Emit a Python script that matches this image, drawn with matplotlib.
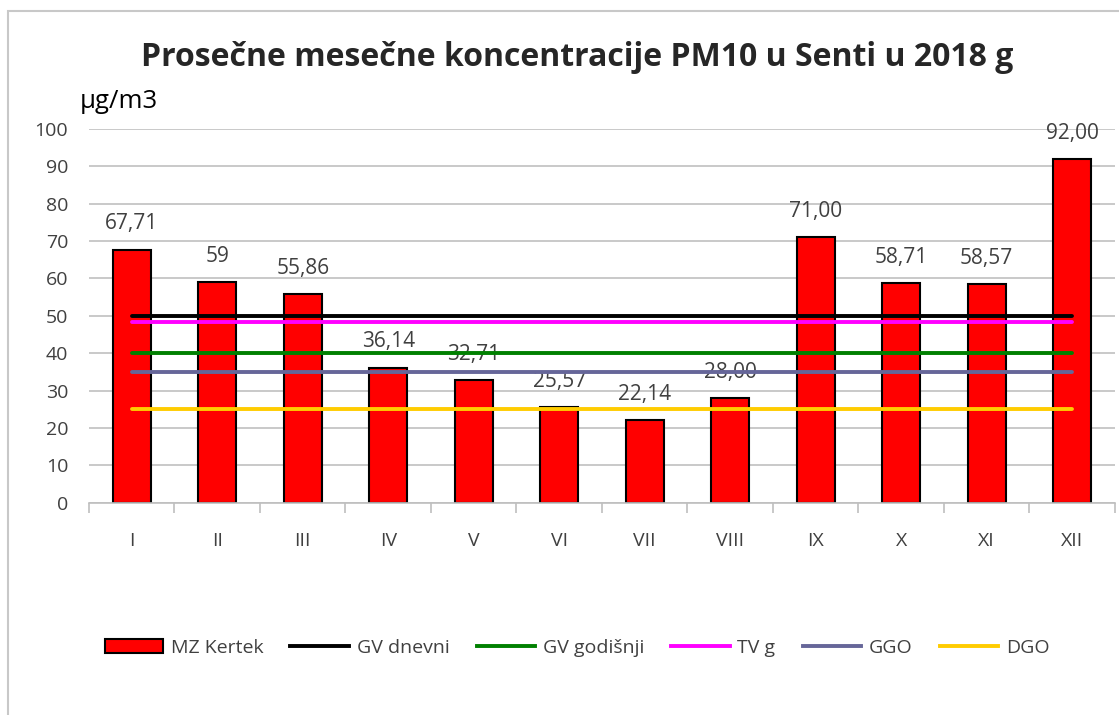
import matplotlib
matplotlib.use("Agg")
import matplotlib.pyplot as plt
import numpy as np
from matplotlib.patches import Rectangle
from matplotlib.lines import Line2D
from matplotlib.patches import Patch

months = ["I", "II", "III", "IV", "V", "VI", "VII", "VIII", "IX", "X", "XI", "XII"]
mz_kertek = [67.71, 59, 55.86, 36.14, 32.71, 25.57, 22.14, 28.00, 71.00, 58.71, 58.57, 92.00]
value_labels = ["67,71", "59", "55,86", "36,14", "32,71", "25,57", "22,14", "28,00", "71,00", "58,71", "58,57", "92,00"]
gv_dnevni = [50] * 12
gv_godisnji = [40] * 12
tv_g = [48.4] * 12
ggo = [35] * 12
dgo = [25] * 12

plt.rcParams['font.family'] = ['Open Sans', 'DejaVu Sans']
txt = '#404040'

fig = plt.figure(figsize=(11.19, 7.15), dpi=100)
ax = fig.add_axes([0.0795, 0.2969, 0.9964 - 0.0795, 0.8196 - 0.2969])

x = np.arange(len(months))
ax.bar(x, mz_kertek, width=0.44, color='#FF0000', edgecolor='black', linewidth=1.5, zorder=2)

line_specs = [
    (gv_dnevni, 'black', 'GV dnevni'),
    (gv_godisnji, '#008000', 'GV godišnji'),
    (tv_g, '#FF00FF', 'TV g'),
    (ggo, '#666699', 'GGO'),
    (dgo, '#FFCC00', 'DGO'),
]
for vals, col, lab in line_specs:
    ax.plot(x, vals, color=col, lw=2.8, solid_capstyle='round', zorder=4)

for xi, v, s in zip(x, mz_kertek, value_labels):
    ax.annotate(s, (xi, v), xytext=(0, 18.5), textcoords='offset points',
                ha='center', va='center', fontsize=15, color=txt, zorder=3)

ax.set_xlim(-0.5, 11.5)
ax.set_ylim(0, 100)
ax.set_yticks(np.arange(0, 101, 10))
ax.yaxis.grid(True, color='#C0C0C0', lw=1.2, zorder=0)
ax.set_axisbelow(True)
for sp in ['left', 'right', 'top']:
    ax.spines[sp].set_visible(False)
ax.spines['bottom'].set_color('#BFBFBF')
ax.spines['bottom'].set_linewidth(1.2)
ax.tick_params(axis='y', length=0, pad=15, labelsize=14, labelcolor=txt)
ax.set_xticks(x)
ax.set_xticklabels(months)
ax.tick_params(axis='x', which='major', length=0, pad=21, labelsize=14, labelcolor=txt)
ax.set_xticks(np.arange(-0.5, 12, 1), minor=True)
ax.tick_params(axis='x', which='minor', length=7, color='#BFBFBF', width=1.2)

fig.text(0.5156, 0.92, "Prosečne mesečne koncentracije PM10 u Senti u 2018 g",
         ha='center', va='center', fontsize=23, fontweight='bold', color='#262626')
fig.text(0.0715, 0.858, "µg/m3", ha='left', va='center', fontsize=18.5, color='black')

fig.patches.append(Rectangle((0.0071, -0.1), 1.1, 0.9846 + 0.1, transform=fig.transFigure,
                             fill=False, edgecolor='#C8C8C8', lw=1.5))

handles = [Patch(facecolor='#FF0000', edgecolor='black', lw=1.5, label='MZ Kertek')]
for vals, col, lab in line_specs:
    handles.append(Line2D([0], [0], color=col, lw=2.8, label=lab))
fig.legend(handles=handles, loc='center', bbox_to_anchor=(0.5156, 0.094), ncol=6,
           frameon=False, fontsize=14, labelcolor=txt, handlelength=3.0,
           columnspacing=1.4, handletextpad=0.4)

fig.savefig("out.png", dpi=100)
